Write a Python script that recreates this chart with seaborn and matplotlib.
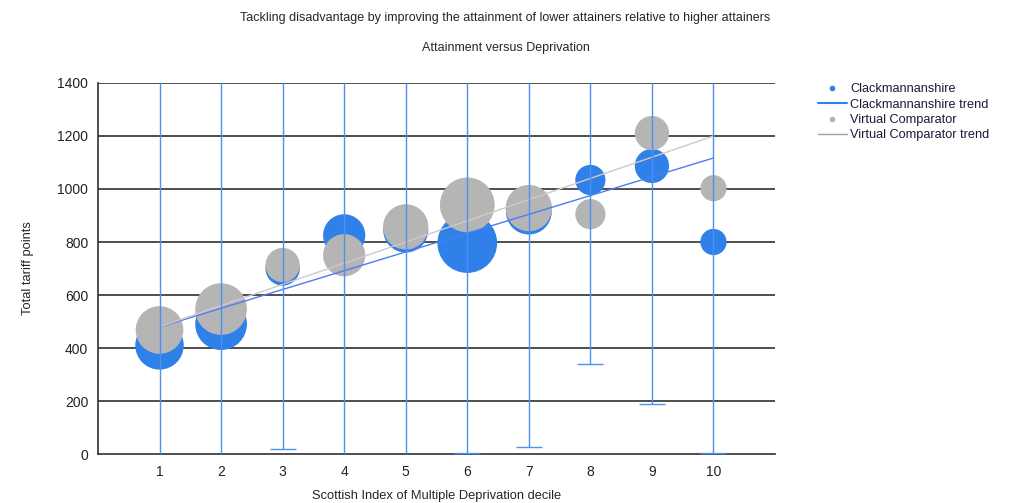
import matplotlib.pyplot as plt
import pandas as pd
import seaborn as sns
from matplotlib.lines import Line2D

# SIMD deciles
deciles = [1, 2, 3, 4, 5, 6, 7, 8, 9, 10]

# Clackmannanshire average tariff points and cohort size
clack_points = [410, 490, 700, 825, 845, 796, 915, 1034, 1087, 800]
clack_cohort = [580, 660, 290, 440, 500, 880, 520, 225, 290, 170]
# error bar range (upper ends run off the top of the chart)
clack_low = [-50, -50, 20, -50, -50, 5, 28, 340, 188, 5]
clack_high = [1600, 1600, 1600, 1600, 1600, 1600, 1600, 1600, 1600, 1600]

# Virtual comparator
vc_points = [468, 547, 713, 750, 857, 940, 928, 905, 1211, 1003]
vc_cohort = [560, 660, 290, 440, 506, 740, 529, 225, 289, 169]

# trend line end points (decile 1 and decile 10)
trend_x = [1, 10]
clack_trend = [479, 1117]
vc_trend = [480, 1200]

blue = '#2f80e8'
grey = '#b5b5b5'

sns.set_style('white')
plt.rcParams['font.family'] = ['Liberation Sans', 'DejaVu Sans']

df = pd.concat([
    pd.DataFrame({'decile': deciles, 'points': clack_points, 'cohort': clack_cohort,
                  'series': 'Clackmannanshire'}),
    pd.DataFrame({'decile': deciles, 'points': vc_points, 'cohort': vc_cohort,
                  'series': 'Virtual Comparator'}),
])

fig = plt.figure(figsize=(10.11, 5.03), dpi=100)
ax = fig.add_axes([0.0969, 0.0974, 0.6697, 0.7376])

# horizontal grid
for v in range(200, 1401, 200):
    ax.axhline(v, color='#303030', lw=1.2, zorder=1)

sns.scatterplot(data=df, x='decile', y='points', hue='series', size='cohort',
                palette={'Clackmannanshire': blue, 'Virtual Comparator': grey},
                sizes=(0, 2100), size_norm=(0, 1000), linewidth=0, alpha=1,
                legend=False, ax=ax, zorder=3)

ax.plot(trend_x, clack_trend, color='#4a7ef0', lw=1, zorder=4)
ax.plot(trend_x, vc_trend, color='#d4c8c8', lw=1, zorder=4)

err_lo = [p - lo for p, lo in zip(clack_points, clack_low)]
err_hi = [hi - p for p, hi in zip(clack_points, clack_high)]
ax.errorbar(deciles, clack_points, yerr=[err_lo, err_hi], fmt='none',
            ecolor='#4a90f5', elinewidth=1, capsize=9.5, capthick=1, zorder=5)

ax.set_xlim(0, 11)
ax.set_ylim(0, 1400)
ax.set_xticks(deciles)
ax.set_yticks(range(0, 1401, 200))
ax.tick_params(axis='y', length=5, width=1, color='#303030', labelsize=10, pad=2,
               labelcolor='#222222')
ax.tick_params(axis='x', length=0, labelsize=10, pad=8, labelcolor='#222222')
for s in ['top', 'right']:
    ax.spines[s].set_visible(False)
for s in ['left', 'bottom']:
    ax.spines[s].set_color('#303030')
    ax.spines[s].set_linewidth(1.2)

ax.set_xlabel('Scottish Index of Multiple Deprivation decile', fontsize=9.3, labelpad=8)
ax.set_ylabel('Total tariff points', fontsize=9.3, labelpad=17)

fig.text(0.5, 1 - 18 / 503, 'Tackling disadvantage by improving the attainment of lower attainers relative to higher attainers',
         ha='center', va='center', fontsize=9)
fig.text(0.5, 1 - 48 / 503, 'Attainment versus Deprivation', ha='center', va='center', fontsize=9)

handles = [
    Line2D([], [], color=blue, marker='o', markersize=3, lw=0),
    Line2D([], [], color=blue, lw=1.5),
    Line2D([], [], color=grey, marker='o', markersize=3, lw=0),
    Line2D([], [], color='#a0a0a0', lw=1),
]
labels = ['Clackmannanshire', 'Clackmannanshire trend', 'Virtual Comparator', 'Virtual Comparator trend']
fig.legend(handles, labels, loc='upper left', bbox_to_anchor=(812 / 1011, 1 - 77 / 503),
           frameon=False, fontsize=9.2, handlelength=2.2, handletextpad=0.3,
           labelspacing=0.26, borderpad=0, labelcolor='#1a1a3a')

fig.savefig('out.png', dpi=100)
